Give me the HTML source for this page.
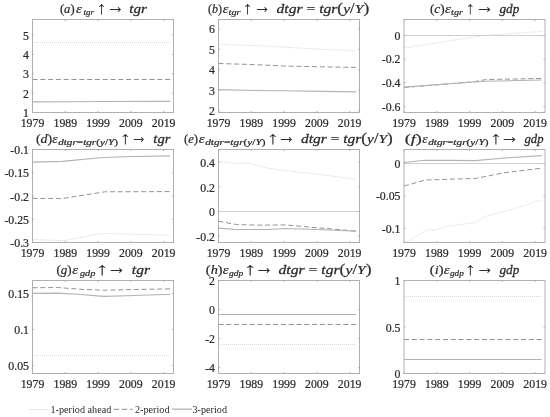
<!DOCTYPE html>
<html><head><meta charset="utf-8"><style>
html,body{margin:0;padding:0;background:#fff;width:550px;height:417px;overflow:hidden}
svg{display:block;will-change:transform}
text{font-family:"Liberation Serif",serif;fill:#2b2b2b;stroke:#2b2b2b;stroke-width:0.22px;font-kerning:none;text-rendering:optimizeSpeed}
.tk{font-size:11.8px}
.lg{font-size:10.2px;stroke-width:0}
.tt{font-size:12.5px;font-style:italic}
.sub{font-size:8.5px}
.ar{font-style:normal}
.bd{font-weight:bold}
.op{font-weight:normal;font-style:normal}
.ops{font-style:normal}
</style></head><body>
<svg width="550" height="417" viewBox="0 0 550 417">
<polyline points="32.5,42.5 170.22,42.5" fill="none" stroke="#d8d8d8" stroke-width="1" stroke-dasharray="1 1" stroke-dashoffset="0.50"/>
<polyline points="32.5,79.5 170.22,79.5" fill="none" stroke="#929292" stroke-width="1" stroke-dasharray="5 2.8"/>
<polyline points="32.5,101.84 68.57,101.79 101.36,101.55 170.22,101.36" fill="none" stroke="#b3b3b3" stroke-width="1.15"/>
<rect x="32.5" y="19.5" width="141" height="93" fill="none" stroke="#b0b0b0" stroke-width="1"/>
<path d="M32.5 112.5v-1.5M32.5 19.5v1.5M65.29 112.5v-1.5M65.29 19.5v1.5M98.08 112.5v-1.5M98.08 19.5v1.5M130.87 112.5v-1.5M130.87 19.5v1.5M163.66 112.5v-1.5M163.66 19.5v1.5M32.5 112.5h1.5M173.5 112.5h-1.5M32.5 93.12h1.5M173.5 93.12h-1.5M32.5 73.75h1.5M173.5 73.75h-1.5M32.5 54.38h1.5M173.5 54.38h-1.5M32.5 35h1.5M173.5 35h-1.5" stroke="#b0b0b0" stroke-width="1" fill="none"/>
<text x="32.5" y="126.8" text-anchor="middle" class="tk">1979</text>
<text x="65.29" y="126.8" text-anchor="middle" class="tk">1989</text>
<text x="98.08" y="126.8" text-anchor="middle" class="tk">1999</text>
<text x="130.87" y="126.8" text-anchor="middle" class="tk">2009</text>
<text x="163.66" y="126.8" text-anchor="middle" class="tk">2019</text>
<text x="29" y="117.2" text-anchor="end" class="tk">1</text>
<text x="29" y="97.83" text-anchor="end" class="tk">2</text>
<text x="29" y="78.45" text-anchor="end" class="tk">3</text>
<text x="29" y="59.08" text-anchor="end" class="tk">4</text>
<text x="29" y="39.7" text-anchor="end" class="tk">5</text>
<text transform="translate(59.95,12.70) scale(0.978,1.000)" style="font-size:12.8px" class="t"><tspan style="font-style:normal;font-weight:normal">(</tspan><tspan style="font-style:italic;font-weight:normal">a</tspan><tspan style="font-style:normal;font-weight:normal">)</tspan></text>
<text transform="translate(75.88,12.70) scale(1.156,1.000)" style="font-size:12.8px" class="t"><tspan style="font-style:italic;font-weight:normal">ε</tspan></text>
<text transform="translate(83.61,14.80) scale(1.045,1.000)" style="font-size:8.5px" class="t"><tspan style="font-style:italic;font-weight:normal">tgr</tspan></text>
<text transform="translate(96.17,14.30) scale(1.219,1.000)" style="font-size:17.5px" class="t"><tspan style="font-style:normal;font-weight:normal;stroke-width:0">↑</tspan></text>
<text transform="translate(106.21,12.50) scale(0.885,1.000)" style="font-size:21px" class="t"><tspan style="font-style:normal;font-weight:normal;stroke-width:0">→</tspan></text>
<text transform="translate(129.34,12.70) scale(1.180,1.000)" style="font-size:12.8px" class="t"><tspan style="font-style:italic;font-weight:normal;stroke-width:0.26">tgr</tspan></text>
<polyline points="218.5,44.3 253.26,45.54 284.08,47.19 321.46,49.26 356.22,50.71" fill="none" stroke="#d8d8d8" stroke-width="1" stroke-dasharray="1 1" stroke-dashoffset="0.50"/>
<polyline points="218.5,63.52 253.26,64.55 284.08,66 321.46,66.83 356.22,67.45" fill="none" stroke="#929292" stroke-width="1" stroke-dasharray="5 2.8"/>
<polyline points="218.5,89.56 253.26,90.49 284.08,90.8 321.46,91.42 356.22,91.83" fill="none" stroke="#b3b3b3" stroke-width="1.15"/>
<rect x="218.5" y="19.5" width="141" height="93" fill="none" stroke="#b0b0b0" stroke-width="1"/>
<path d="M218.5 112.5v-1.5M218.5 19.5v1.5M251.29 112.5v-1.5M251.29 19.5v1.5M284.08 112.5v-1.5M284.08 19.5v1.5M316.87 112.5v-1.5M316.87 19.5v1.5M349.66 112.5v-1.5M349.66 19.5v1.5M218.5 110.8h1.5M359.5 110.8h-1.5M218.5 90.3h1.5M359.5 90.3h-1.5M218.5 69.8h1.5M359.5 69.8h-1.5M218.5 49.3h1.5M359.5 49.3h-1.5M218.5 28.8h1.5M359.5 28.8h-1.5" stroke="#b0b0b0" stroke-width="1" fill="none"/>
<text x="218.5" y="126.8" text-anchor="middle" class="tk">1979</text>
<text x="251.29" y="126.8" text-anchor="middle" class="tk">1989</text>
<text x="284.08" y="126.8" text-anchor="middle" class="tk">1999</text>
<text x="316.87" y="126.8" text-anchor="middle" class="tk">2009</text>
<text x="349.66" y="126.8" text-anchor="middle" class="tk">2019</text>
<text x="215" y="115.1" text-anchor="end" class="tk">2</text>
<text x="215" y="94.6" text-anchor="end" class="tk">3</text>
<text x="215" y="74.1" text-anchor="end" class="tk">4</text>
<text x="215" y="53.6" text-anchor="end" class="tk">5</text>
<text x="215" y="33.1" text-anchor="end" class="tk">6</text>
<text transform="translate(207.97,12.70) scale(0.942,1.000)" style="font-size:12.8px" class="t"><tspan style="font-style:normal;font-weight:normal">(</tspan><tspan style="font-style:italic;font-weight:normal">b</tspan><tspan style="font-style:normal;font-weight:normal">)</tspan></text>
<text transform="translate(222.70,12.70) scale(1.093,1.000)" style="font-size:12.8px" class="t"><tspan style="font-style:italic;font-weight:normal">ε</tspan></text>
<text transform="translate(228.55,14.80) scale(1.202,1.000)" style="font-size:8.5px" class="t"><tspan style="font-style:italic;font-weight:normal">tgr</tspan></text>
<text transform="translate(242.17,14.30) scale(1.219,1.000)" style="font-size:17.5px" class="t"><tspan style="font-style:normal;font-weight:normal;stroke-width:0">↑</tspan></text>
<text transform="translate(253.41,12.50) scale(0.837,1.000)" style="font-size:21px" class="t"><tspan style="font-style:normal;font-weight:normal;stroke-width:0">→</tspan></text>
<text transform="translate(276.53,12.70) scale(1.220,1.000)" style="font-size:12.8px" class="t"><tspan style="font-style:italic;font-weight:normal;stroke-width:0.26">dtgr</tspan><tspan style="font-style:normal;font-weight:normal"> = </tspan><tspan style="font-style:italic;font-weight:normal;stroke-width:0.26">tgr</tspan><tspan style="font-style:normal;font-weight:normal;font-size:14.2px">(</tspan><tspan style="font-style:italic;font-weight:normal">y</tspan><tspan style="font-style:normal;font-weight:normal;font-size:13.6px">/</tspan><tspan style="font-style:italic;font-weight:normal">Y</tspan><tspan style="font-style:normal;font-weight:normal;font-size:14.2px">)</tspan></text>
<line x1="404" x2="545" y1="35.5" y2="35.5" stroke="#cfcfcf" stroke-width="1"/>
<polyline points="404,48.08 455.15,39.96 484.99,35.48 495.16,34.64 509.91,33.67 541.72,31.49" fill="none" stroke="#d8d8d8" stroke-width="1" stroke-dasharray="1 1" stroke-dashoffset="0.00"/>
<polyline points="404,87.55 473.84,81.74 485.98,79.56 541.72,78.47" fill="none" stroke="#929292" stroke-width="1" stroke-dasharray="5 2.8"/>
<polyline points="404,87.19 473.84,81.98 485.98,81.26 541.72,80.05" fill="none" stroke="#b3b3b3" stroke-width="1.15"/>
<rect x="404" y="19.5" width="141" height="93" fill="none" stroke="#b0b0b0" stroke-width="1"/>
<path d="M404 112.5v-1.5M404 19.5v1.5M436.79 112.5v-1.5M436.79 19.5v1.5M469.58 112.5v-1.5M469.58 19.5v1.5M502.37 112.5v-1.5M502.37 19.5v1.5M535.16 112.5v-1.5M535.16 19.5v1.5M404 35.2h1.5M545 35.2h-1.5M404 59h1.5M545 59h-1.5M404 82.8h1.5M545 82.8h-1.5M404 106.6h1.5M545 106.6h-1.5" stroke="#b0b0b0" stroke-width="1" fill="none"/>
<text x="404" y="126.8" text-anchor="middle" class="tk">1979</text>
<text x="436.79" y="126.8" text-anchor="middle" class="tk">1989</text>
<text x="469.58" y="126.8" text-anchor="middle" class="tk">1999</text>
<text x="502.37" y="126.8" text-anchor="middle" class="tk">2009</text>
<text x="535.16" y="126.8" text-anchor="middle" class="tk">2019</text>
<text x="400.5" y="39.5" text-anchor="end" class="tk">0</text>
<text x="400.5" y="63.3" text-anchor="end" class="tk">-0.2</text>
<text x="400.5" y="87.1" text-anchor="end" class="tk">-0.4</text>
<text x="400.5" y="110.9" text-anchor="end" class="tk">-0.6</text>
<text transform="translate(429.92,12.70) scale(1.032,1.000)" style="font-size:12.8px" class="t"><tspan style="font-style:normal;font-weight:normal">(</tspan><tspan style="font-style:italic;font-weight:normal">c</tspan><tspan style="font-style:normal;font-weight:normal">)</tspan></text>
<text transform="translate(444.88,12.70) scale(1.177,1.000)" style="font-size:12.8px" class="t"><tspan style="font-style:italic;font-weight:normal">ε</tspan></text>
<text transform="translate(451.05,14.80) scale(1.202,1.000)" style="font-size:8.5px" class="t"><tspan style="font-style:italic;font-weight:normal">tgr</tspan></text>
<text transform="translate(465.45,14.30) scale(1.097,1.000)" style="font-size:17.5px" class="t"><tspan style="font-style:normal;font-weight:normal;stroke-width:0">↑</tspan></text>
<text transform="translate(475.03,12.50) scale(0.925,1.000)" style="font-size:21px" class="t"><tspan style="font-style:normal;font-weight:normal;stroke-width:0">→</tspan></text>
<text transform="translate(499.49,12.70) scale(1.037,1.000)" style="font-size:12.8px" class="t"><tspan style="font-style:italic;font-weight:normal;stroke-width:0.26">gdp</tspan></text>
<polyline points="32.5,239.48 64.31,240.64 98.41,233.99 108.9,233.48 170.22,235.29" fill="none" stroke="#d8d8d8" stroke-width="1" stroke-dasharray="1 1" stroke-dashoffset="0.50"/>
<polyline points="32.5,198.32 62.01,198.6 104.64,191.81 170.22,191.58" fill="none" stroke="#929292" stroke-width="1" stroke-dasharray="5 2.8"/>
<polyline points="32.5,162.19 62.67,161.4 100.05,157.78 123.33,156.71 170.22,155.92" fill="none" stroke="#b3b3b3" stroke-width="1.15"/>
<rect x="32.5" y="149.5" width="141" height="93" fill="none" stroke="#b0b0b0" stroke-width="1"/>
<path d="M32.5 242.5v-1.5M32.5 149.5v1.5M65.29 242.5v-1.5M65.29 149.5v1.5M98.08 242.5v-1.5M98.08 149.5v1.5M130.87 242.5v-1.5M130.87 149.5v1.5M163.66 242.5v-1.5M163.66 149.5v1.5M32.5 149.5h1.5M173.5 149.5h-1.5M32.5 172.75h1.5M173.5 172.75h-1.5M32.5 196h1.5M173.5 196h-1.5M32.5 219.25h1.5M173.5 219.25h-1.5M32.5 242.5h1.5M173.5 242.5h-1.5" stroke="#b0b0b0" stroke-width="1" fill="none"/>
<text x="32.5" y="256.8" text-anchor="middle" class="tk">1979</text>
<text x="65.29" y="256.8" text-anchor="middle" class="tk">1989</text>
<text x="98.08" y="256.8" text-anchor="middle" class="tk">1999</text>
<text x="130.87" y="256.8" text-anchor="middle" class="tk">2009</text>
<text x="163.66" y="256.8" text-anchor="middle" class="tk">2019</text>
<text x="29" y="154.2" text-anchor="end" class="tk">-0.1</text>
<text x="29" y="177.45" text-anchor="end" class="tk">-0.15</text>
<text x="29" y="200.7" text-anchor="end" class="tk">-0.2</text>
<text x="29" y="223.95" text-anchor="end" class="tk">-0.25</text>
<text x="29" y="247.2" text-anchor="end" class="tk">-0.3</text>
<text transform="translate(35.89,142.70) scale(1.087,1.000)" style="font-size:12.8px" class="t"><tspan style="font-style:normal;font-weight:normal">(</tspan><tspan style="font-style:italic;font-weight:normal">d</tspan><tspan style="font-style:normal;font-weight:normal">)</tspan></text>
<text transform="translate(52.21,142.70) scale(1.051,1.000)" style="font-size:12.8px" class="t"><tspan style="font-style:italic;font-weight:normal">ε</tspan></text>
<text transform="translate(58.16,144.80) scale(1.318,1.000)" style="font-size:8.5px" class="t"><tspan style="font-style:italic;font-weight:normal">dtgr</tspan><tspan style="font-style:normal;font-weight:normal">=</tspan><tspan style="font-style:italic;font-weight:normal">tgr</tspan><tspan style="font-style:normal;font-weight:normal">(</tspan><tspan style="font-style:italic;font-weight:normal">y</tspan><tspan style="font-style:normal;font-weight:normal">/</tspan><tspan style="font-style:italic;font-weight:normal">Y</tspan><tspan style="font-style:normal;font-weight:normal">)</tspan></text>
<text transform="translate(119.38,144.30) scale(1.341,1.000)" style="font-size:17.5px" class="t"><tspan style="font-style:normal;font-weight:normal;stroke-width:0">↑</tspan></text>
<text transform="translate(130.55,142.50) scale(0.805,1.000)" style="font-size:21px" class="t"><tspan style="font-style:normal;font-weight:normal;stroke-width:0">→</tspan></text>
<text transform="translate(153.36,142.70) scale(1.145,1.000)" style="font-size:12.8px" class="t"><tspan style="font-style:italic;font-weight:normal;stroke-width:0.26">tgr</tspan></text>
<line x1="218.5" x2="359.5" y1="211.5" y2="211.5" stroke="#cfcfcf" stroke-width="1"/>
<polyline points="218.5,161.19 236.53,163.65 248.34,163.03 269,168.32 285.07,170.54 317.53,174.23 356.22,179.15" fill="none" stroke="#d8d8d8" stroke-width="1" stroke-dasharray="1 1" stroke-dashoffset="0.50"/>
<polyline points="218.5,221.22 236.53,224.54 258.18,225.15 285.07,224.91 317.53,227.74 356.22,231.06" fill="none" stroke="#929292" stroke-width="1" stroke-dasharray="5 2.8"/>
<polyline points="218.5,228.11 236.53,229.46 269,229.46 285.07,228.48 317.53,229.46 356.22,231.06" fill="none" stroke="#b3b3b3" stroke-width="1.15"/>
<rect x="218.5" y="149.5" width="141" height="93" fill="none" stroke="#b0b0b0" stroke-width="1"/>
<path d="M218.5 242.5v-1.5M218.5 149.5v1.5M251.29 242.5v-1.5M251.29 149.5v1.5M284.08 242.5v-1.5M284.08 149.5v1.5M316.87 242.5v-1.5M316.87 149.5v1.5M349.66 242.5v-1.5M349.66 149.5v1.5M218.5 162.29h1.5M359.5 162.29h-1.5M218.5 186.9h1.5M359.5 186.9h-1.5M218.5 211.5h1.5M359.5 211.5h-1.5M218.5 236.1h1.5M359.5 236.1h-1.5" stroke="#b0b0b0" stroke-width="1" fill="none"/>
<text x="218.5" y="256.8" text-anchor="middle" class="tk">1979</text>
<text x="251.29" y="256.8" text-anchor="middle" class="tk">1989</text>
<text x="284.08" y="256.8" text-anchor="middle" class="tk">1999</text>
<text x="316.87" y="256.8" text-anchor="middle" class="tk">2009</text>
<text x="349.66" y="256.8" text-anchor="middle" class="tk">2019</text>
<text x="215" y="166.99" text-anchor="end" class="tk">0.4</text>
<text x="215" y="191.6" text-anchor="end" class="tk">0.2</text>
<text x="215" y="216.2" text-anchor="end" class="tk">0</text>
<text x="215" y="240.8" text-anchor="end" class="tk">-0.2</text>
<text transform="translate(183.94,142.70) scale(0.994,1.000)" style="font-size:12.8px" class="t"><tspan style="font-style:normal;font-weight:normal">(</tspan><tspan style="font-style:italic;font-weight:normal">e</tspan><tspan style="font-style:normal;font-weight:normal">)</tspan></text>
<text transform="translate(198.68,142.70) scale(1.156,1.000)" style="font-size:12.8px" class="t"><tspan style="font-style:italic;font-weight:normal">ε</tspan></text>
<text transform="translate(205.16,144.80) scale(1.329,1.000)" style="font-size:8.5px" class="t"><tspan style="font-style:italic;font-weight:normal">dtgr</tspan><tspan style="font-style:normal;font-weight:normal">=</tspan><tspan style="font-style:italic;font-weight:normal">tgr</tspan><tspan style="font-style:normal;font-weight:normal">(</tspan><tspan style="font-style:italic;font-weight:normal">y</tspan><tspan style="font-style:normal;font-weight:normal">/</tspan><tspan style="font-style:italic;font-weight:normal">Y</tspan><tspan style="font-style:normal;font-weight:normal">)</tspan></text>
<text transform="translate(266.60,144.30) scale(1.463,1.000)" style="font-size:17.5px" class="t"><tspan style="font-style:normal;font-weight:normal;stroke-width:0">↑</tspan></text>
<text transform="translate(277.21,142.50) scale(0.885,1.000)" style="font-size:21px" class="t"><tspan style="font-style:normal;font-weight:normal;stroke-width:0">→</tspan></text>
<text transform="translate(301.03,142.70) scale(1.208,1.000)" style="font-size:12.8px" class="t"><tspan style="font-style:italic;font-weight:normal;stroke-width:0.26">dtgr</tspan><tspan style="font-style:normal;font-weight:normal"> = </tspan><tspan style="font-style:italic;font-weight:normal;stroke-width:0.26">tgr</tspan><tspan style="font-style:normal;font-weight:normal;font-size:14.2px">(</tspan><tspan style="font-style:italic;font-weight:normal">y</tspan><tspan style="font-style:normal;font-weight:normal;font-size:13.6px">/</tspan><tspan style="font-style:italic;font-weight:normal">Y</tspan><tspan style="font-style:normal;font-weight:normal;font-size:14.2px">)</tspan></text>
<line x1="404" x2="545" y1="163.5" y2="163.5" stroke="#cfcfcf" stroke-width="1"/>
<polyline points="404,243.47 413.84,237.71 427.28,229.76 434.17,230.28 445.64,226.33 459.09,224.78 475.16,222.58 485.98,216.18 504.34,211.59 526.97,204.73 536.15,201.37 541.72,200.66" fill="none" stroke="#d8d8d8" stroke-width="1" stroke-dasharray="1 1" stroke-dashoffset="0.00"/>
<polyline points="404,186.04 424.99,180.09 450.23,179.18 475.16,178.47 504.34,172.78 541.72,168.19" fill="none" stroke="#929292" stroke-width="1" stroke-dasharray="5 2.8"/>
<polyline points="404,162.5 424.99,160.3 450.23,160.3 475.16,160.69 504.34,157.97 541.72,155.64" fill="none" stroke="#b3b3b3" stroke-width="1.15"/>
<rect x="404" y="149.5" width="141" height="93" fill="none" stroke="#b0b0b0" stroke-width="1"/>
<path d="M404 242.5v-1.5M404 149.5v1.5M436.79 242.5v-1.5M436.79 149.5v1.5M469.58 242.5v-1.5M469.58 149.5v1.5M502.37 242.5v-1.5M502.37 149.5v1.5M535.16 242.5v-1.5M535.16 149.5v1.5M404 163.4h1.5M545 163.4h-1.5M404 195.95h1.5M545 195.95h-1.5M404 228.5h1.5M545 228.5h-1.5" stroke="#b0b0b0" stroke-width="1" fill="none"/>
<text x="404" y="256.8" text-anchor="middle" class="tk">1979</text>
<text x="436.79" y="256.8" text-anchor="middle" class="tk">1989</text>
<text x="469.58" y="256.8" text-anchor="middle" class="tk">1999</text>
<text x="502.37" y="256.8" text-anchor="middle" class="tk">2009</text>
<text x="535.16" y="256.8" text-anchor="middle" class="tk">2019</text>
<text x="400.5" y="167.7" text-anchor="end" class="tk">0</text>
<text x="400.5" y="200.25" text-anchor="end" class="tk">-0.05</text>
<text x="400.5" y="232.8" text-anchor="end" class="tk">-0.1</text>
<text transform="translate(404.70,142.70) scale(1.415,1.000)" style="font-size:12.8px" class="t"><tspan style="font-style:normal;font-weight:normal">(</tspan><tspan style="font-style:italic;font-weight:normal">f</tspan><tspan style="font-style:normal;font-weight:normal">)</tspan></text>
<text transform="translate(422.21,142.70) scale(1.051,1.000)" style="font-size:12.8px" class="t"><tspan style="font-style:italic;font-weight:normal">ε</tspan></text>
<text transform="translate(428.16,144.80) scale(1.329,1.000)" style="font-size:8.5px" class="t"><tspan style="font-style:italic;font-weight:normal">dtgr</tspan><tspan style="font-style:normal;font-weight:normal">=</tspan><tspan style="font-style:italic;font-weight:normal">tgr</tspan><tspan style="font-style:normal;font-weight:normal">(</tspan><tspan style="font-style:italic;font-weight:normal">y</tspan><tspan style="font-style:normal;font-weight:normal">/</tspan><tspan style="font-style:italic;font-weight:normal">Y</tspan><tspan style="font-style:normal;font-weight:normal">)</tspan></text>
<text transform="translate(489.60,144.30) scale(1.463,1.000)" style="font-size:17.5px" class="t"><tspan style="font-style:normal;font-weight:normal;stroke-width:0">↑</tspan></text>
<text transform="translate(500.03,142.50) scale(0.925,1.000)" style="font-size:21px" class="t"><tspan style="font-style:normal;font-weight:normal;stroke-width:0">→</tspan></text>
<text transform="translate(524.49,142.70) scale(0.994,1.000)" style="font-size:12.8px" class="t"><tspan style="font-style:italic;font-weight:normal;stroke-width:0.26">gdp</tspan></text>
<polyline points="32.5,355.5 170.22,355.5" fill="none" stroke="#d8d8d8" stroke-width="1" stroke-dasharray="1 1" stroke-dashoffset="0.50"/>
<polyline points="32.5,287.78 57.42,287.49 70.87,288.5 84.64,289.5 103.66,290.23 134.15,289.5 170.22,288.86" fill="none" stroke="#929292" stroke-width="1" stroke-dasharray="5 2.8"/>
<polyline points="32.5,293.39 57.42,293.18 77.75,294.26 103.66,296.42 127.27,295.7 170.22,294.26" fill="none" stroke="#b3b3b3" stroke-width="1.15"/>
<rect x="32.5" y="280.5" width="141" height="93" fill="none" stroke="#b0b0b0" stroke-width="1"/>
<path d="M32.5 373.5v-1.5M32.5 280.5v1.5M65.29 373.5v-1.5M65.29 280.5v1.5M98.08 373.5v-1.5M98.08 280.5v1.5M130.87 373.5v-1.5M130.87 280.5v1.5M163.66 373.5v-1.5M163.66 280.5v1.5M32.5 293.39h1.5M173.5 293.39h-1.5M32.5 329.41h1.5M173.5 329.41h-1.5M32.5 365.43h1.5M173.5 365.43h-1.5" stroke="#b0b0b0" stroke-width="1" fill="none"/>
<text x="32.5" y="387.8" text-anchor="middle" class="tk">1979</text>
<text x="65.29" y="387.8" text-anchor="middle" class="tk">1989</text>
<text x="98.08" y="387.8" text-anchor="middle" class="tk">1999</text>
<text x="130.87" y="387.8" text-anchor="middle" class="tk">2009</text>
<text x="163.66" y="387.8" text-anchor="middle" class="tk">2019</text>
<text x="29" y="298.09" text-anchor="end" class="tk">0.15</text>
<text x="29" y="334.11" text-anchor="end" class="tk">0.1</text>
<text x="29" y="370.13" text-anchor="end" class="tk">0.05</text>
<text transform="translate(56.43,273.70) scale(1.014,1.000)" style="font-size:12.8px" class="t"><tspan style="font-style:normal;font-weight:normal">(</tspan><tspan style="font-style:italic;font-weight:normal">g</tspan><tspan style="font-style:normal;font-weight:normal">)</tspan></text>
<text transform="translate(72.18,273.70) scale(1.156,1.000)" style="font-size:12.8px" class="t"><tspan style="font-style:italic;font-weight:normal">ε</tspan></text>
<text transform="translate(80.00,275.80) scale(1.201,1.000)" style="font-size:8.5px" class="t"><tspan style="font-style:italic;font-weight:normal">gdp</tspan></text>
<text transform="translate(95.32,275.30) scale(1.585,1.000)" style="font-size:17.5px" class="t"><tspan style="font-style:normal;font-weight:normal;stroke-width:0">↑</tspan></text>
<text transform="translate(107.03,273.50) scale(0.925,1.000)" style="font-size:21px" class="t"><tspan style="font-style:normal;font-weight:normal;stroke-width:0">→</tspan></text>
<text transform="translate(131.82,273.70) scale(1.214,1.000)" style="font-size:12.8px" class="t"><tspan style="font-style:italic;font-weight:normal;stroke-width:0.26">tgr</tspan></text>
<polyline points="218.5,344.5 356.22,344.5" fill="none" stroke="#d8d8d8" stroke-width="1" stroke-dasharray="1 1" stroke-dashoffset="0.50"/>
<polyline points="218.5,324.5 356.22,324.5" fill="none" stroke="#929292" stroke-width="1" stroke-dasharray="5 2.8"/>
<polyline points="218.5,314.5 356.22,314.5" fill="none" stroke="#b3b3b3" stroke-width="1.15"/>
<rect x="218.5" y="280.5" width="141" height="93" fill="none" stroke="#b0b0b0" stroke-width="1"/>
<path d="M218.5 373.5v-1.5M218.5 280.5v1.5M251.29 373.5v-1.5M251.29 280.5v1.5M284.08 373.5v-1.5M284.08 280.5v1.5M316.87 373.5v-1.5M316.87 280.5v1.5M349.66 373.5v-1.5M349.66 280.5v1.5M218.5 280.5h1.5M359.5 280.5h-1.5M218.5 309.52h1.5M359.5 309.52h-1.5M218.5 338.53h1.5M359.5 338.53h-1.5M218.5 367.55h1.5M359.5 367.55h-1.5" stroke="#b0b0b0" stroke-width="1" fill="none"/>
<text x="218.5" y="387.8" text-anchor="middle" class="tk">1979</text>
<text x="251.29" y="387.8" text-anchor="middle" class="tk">1989</text>
<text x="284.08" y="387.8" text-anchor="middle" class="tk">1999</text>
<text x="316.87" y="387.8" text-anchor="middle" class="tk">2009</text>
<text x="349.66" y="387.8" text-anchor="middle" class="tk">2019</text>
<text x="215" y="285.2" text-anchor="end" class="tk">2</text>
<text x="215" y="314.22" text-anchor="end" class="tk">0</text>
<text x="215" y="343.23" text-anchor="end" class="tk">-2</text>
<text x="215" y="372.25" text-anchor="end" class="tk">-4</text>
<text transform="translate(205.87,273.70) scale(1.123,1.000)" style="font-size:12.8px" class="t"><tspan style="font-style:normal;font-weight:normal">(</tspan><tspan style="font-style:italic;font-weight:normal">h</tspan><tspan style="font-style:normal;font-weight:normal">)</tspan></text>
<text transform="translate(222.68,273.70) scale(1.156,1.000)" style="font-size:12.8px" class="t"><tspan style="font-style:italic;font-weight:normal">ε</tspan></text>
<text transform="translate(229.00,275.80) scale(1.121,1.000)" style="font-size:8.5px" class="t"><tspan style="font-style:italic;font-weight:normal">gdp</tspan></text>
<text transform="translate(243.32,275.30) scale(1.585,1.000)" style="font-size:17.5px" class="t"><tspan style="font-style:normal;font-weight:normal;stroke-width:0">↑</tspan></text>
<text transform="translate(254.53,273.50) scale(0.925,1.000)" style="font-size:21px" class="t"><tspan style="font-style:normal;font-weight:normal;stroke-width:0">→</tspan></text>
<text transform="translate(278.53,273.70) scale(1.225,1.000)" style="font-size:12.8px" class="t"><tspan style="font-style:italic;font-weight:normal;stroke-width:0.26">dtgr</tspan><tspan style="font-style:normal;font-weight:normal"> = </tspan><tspan style="font-style:italic;font-weight:normal;stroke-width:0.26">tgr</tspan><tspan style="font-style:normal;font-weight:normal;font-size:14.2px">(</tspan><tspan style="font-style:italic;font-weight:normal">y</tspan><tspan style="font-style:normal;font-weight:normal;font-size:13.6px">/</tspan><tspan style="font-style:italic;font-weight:normal">Y</tspan><tspan style="font-style:normal;font-weight:normal;font-size:14.2px">)</tspan></text>
<polyline points="404,296.5 541.72,296.5" fill="none" stroke="#d8d8d8" stroke-width="1" stroke-dasharray="1 1" stroke-dashoffset="0.00"/>
<polyline points="404,339.5 541.72,339.5" fill="none" stroke="#929292" stroke-width="1" stroke-dasharray="5 2.8"/>
<polyline points="404,359.5 541.72,359.5" fill="none" stroke="#b3b3b3" stroke-width="1.15"/>
<rect x="404" y="280.5" width="141" height="93" fill="none" stroke="#b0b0b0" stroke-width="1"/>
<path d="M404 373.5v-1.5M404 280.5v1.5M436.79 373.5v-1.5M436.79 280.5v1.5M469.58 373.5v-1.5M469.58 280.5v1.5M502.37 373.5v-1.5M502.37 280.5v1.5M535.16 373.5v-1.5M535.16 280.5v1.5M404 373.5h1.5M545 373.5h-1.5M404 327h1.5M545 327h-1.5M404 280.5h1.5M545 280.5h-1.5" stroke="#b0b0b0" stroke-width="1" fill="none"/>
<text x="404" y="387.8" text-anchor="middle" class="tk">1979</text>
<text x="436.79" y="387.8" text-anchor="middle" class="tk">1989</text>
<text x="469.58" y="387.8" text-anchor="middle" class="tk">1999</text>
<text x="502.37" y="387.8" text-anchor="middle" class="tk">2009</text>
<text x="535.16" y="387.8" text-anchor="middle" class="tk">2019</text>
<text x="400.5" y="378.2" text-anchor="end" class="tk">0</text>
<text x="400.5" y="331.7" text-anchor="end" class="tk">0.5</text>
<text x="400.5" y="285.2" text-anchor="end" class="tk">1</text>
<text transform="translate(429.86,273.70) scale(1.141,1.000)" style="font-size:12.8px" class="t"><tspan style="font-style:normal;font-weight:normal">(</tspan><tspan style="font-style:italic;font-weight:normal">i</tspan><tspan style="font-style:normal;font-weight:normal">)</tspan></text>
<text transform="translate(443.68,273.70) scale(1.156,1.000)" style="font-size:12.8px" class="t"><tspan style="font-style:italic;font-weight:normal">ε</tspan></text>
<text transform="translate(450.00,275.80) scale(1.081,1.000)" style="font-size:8.5px" class="t"><tspan style="font-style:italic;font-weight:normal">gdp</tspan></text>
<text transform="translate(464.38,275.30) scale(1.341,1.000)" style="font-size:17.5px" class="t"><tspan style="font-style:normal;font-weight:normal;stroke-width:0">↑</tspan></text>
<text transform="translate(475.71,273.50) scale(0.885,1.000)" style="font-size:21px" class="t"><tspan style="font-style:normal;font-weight:normal;stroke-width:0">→</tspan></text>
<text transform="translate(499.49,273.70) scale(1.037,1.000)" style="font-size:12.8px" class="t"><tspan style="font-style:italic;font-weight:normal;stroke-width:0.26">gdp</tspan></text>

<line x1="29" x2="48" y1="409.5" y2="409.5" stroke="#d8d8d8" stroke-dasharray="1 0.6"/>
<text x="50.5" y="412.5" class="lg">1-period ahead</text>
<line x1="113.7" x2="132.8" y1="409.3" y2="409.3" stroke="#929292" stroke-dasharray="5.5 2.6"/>
<text x="135" y="412.5" class="lg">2-period</text>
<line x1="172" x2="192" y1="409.2" y2="409.2" stroke="#b3b3b3" stroke-width="1.3"/>
<text x="192.5" y="412.5" class="lg">3-period</text>

</svg>
</body></html>
